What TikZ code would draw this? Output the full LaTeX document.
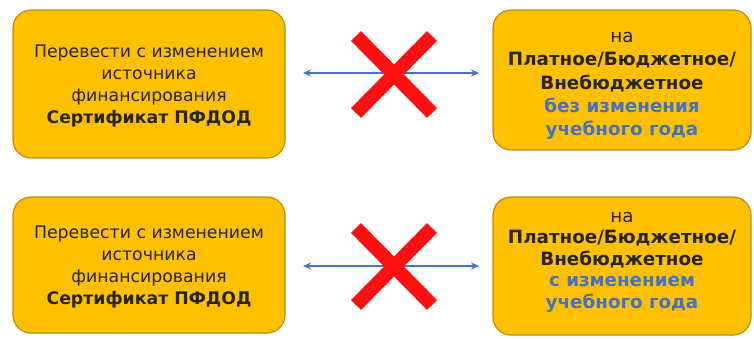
\documentclass[tikz,border=0pt]{standalone}
\usepackage{fontspec}
\setmainfont{DejaVu Sans}
\usetikzlibrary{arrows.meta}
\definecolor{boxfill}{HTML}{FFC000}
\definecolor{boxdraw}{HTML}{B8900A}
\definecolor{bluetxt}{HTML}{4472C4}
\definecolor{arrowc}{HTML}{4A72C0}
\definecolor{redx}{HTML}{FF1010}
\tikzset{
  boxshape/.style={draw=boxdraw, line width=1.2pt, fill=boxfill, rounded corners=18pt},
  srcbox/.style={boxshape, minimum width=272pt},
  dstbox/.style={boxshape, minimum width=258pt},
  srctext/.style={align=center, font=\fontsize{17.3}{21.7}\selectfont, text=black!85},
  dsttext/.style={align=center, font=\fontsize{18.3}{23.3}\selectfont, text=black!85},
  link/.style={arrowc, line width=1.3pt, {Stealth[length=8pt,width=7pt]}-{Stealth[length=8pt,width=7pt]}},
  cross/.style={redx, line width=14pt}
}
\begin{document}
\begin{tikzpicture}[x=1pt,y=-1pt]
\useasboundingbox (0,0) rectangle (754,338);
\node[srcbox, minimum height=148pt] (s1) at (149,84) {};
\node[srctext] (s1t) at (149,86) {Перевести с изменением\\источника\\финансирования\\\textbf{Сертификат ПФДОД}};
\node[dstbox, minimum height=140pt] (d1) at (622,80) {};
\node[dsttext] (d1t) at (622,86) {на\\\textbf{Платное/Бюджетное/}\\\textbf{Внебюджетное}\\\textcolor{bluetxt}{\textbf{без изменения}}\\\textcolor{bluetxt}{\textbf{учебного года}}};
\node[srcbox, minimum height=136pt] (s2) at (149,265) {};
\node[srctext] (s2t) at (149,267) {Перевести с изменением\\источника\\финансирования\\\textbf{Сертификат ПФДОД}};
\node[dstbox, minimum height=138pt] (d2) at (622,266) {};
\node[dsttext, font=\fontsize{18.3}{21.5}\selectfont] (d2t) at (622,262) {на\\\textbf{Платное/Бюджетное/}\\\textbf{Внебюджетное}\\\textcolor{bluetxt}{\textbf{с изменением}}\\\textcolor{bluetxt}{\textbf{учебного года}}};
\coordinate (a1l) at (303,73); \coordinate (a1r) at (479,73);
\coordinate (a2l) at (303,266); \coordinate (a2r) at (479,266);
\draw[link] (a1l) -- (a1r);
\draw[link] (a2l) -- (a2r);
\coordinate (x1a) at (356,36); \coordinate (x1b) at (432,113);
\coordinate (x1c) at (432,36); \coordinate (x1d) at (356,113);
\draw[cross] (x1a) -- (x1b); \draw[cross] (x1c) -- (x1d);
\coordinate (x2a) at (356,228); \coordinate (x2b) at (432,305);
\coordinate (x2c) at (432,228); \coordinate (x2d) at (356,305);
\draw[cross] (x2a) -- (x2b); \draw[cross] (x2c) -- (x2d);
\end{tikzpicture}
\end{document}
